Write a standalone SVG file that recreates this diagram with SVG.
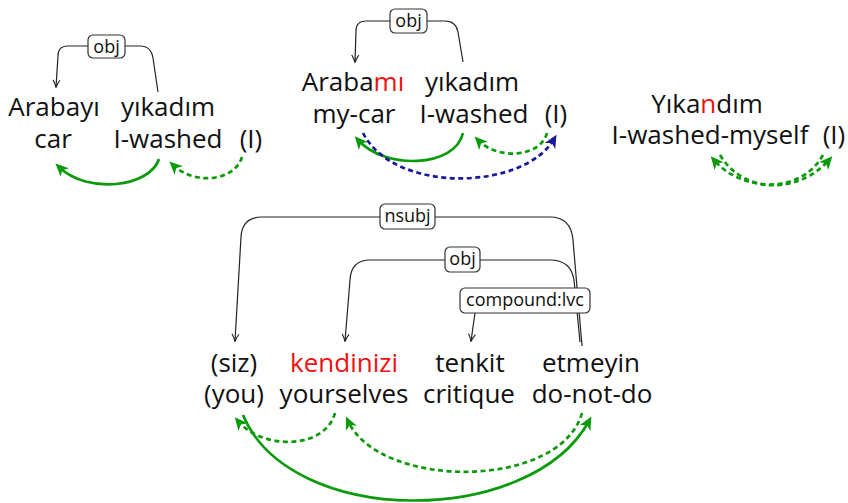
<svg xmlns="http://www.w3.org/2000/svg" width="848" height="503" viewBox="0 0 848 503">
<style>
.w{font-family:"Open Sans","Noto Sans",sans-serif;font-size:26px;fill:#111;text-anchor:middle}
.r{fill:#f01010}
.lb{fill:#fff;stroke:#333;stroke-width:1.2}
.lt{font-family:"Open Sans","Noto Sans",sans-serif;font-size:18px;fill:#111;text-anchor:middle}
.dep{fill:none;stroke:#222;stroke-width:1.2;marker-end:url(#bh)}
.gs{fill:none;stroke:#0a9a0a;stroke-width:2.7;marker-end:url(#gh)}
.gd{fill:none;stroke:#0a9a0a;stroke-width:2.7;stroke-dasharray:5 3.5;marker-end:url(#gh)}
.bd{fill:none;stroke:#18189a;stroke-width:2.7;stroke-dasharray:5 3.5;marker-end:url(#blh)}
</style>
<defs>
<marker id="bh" markerUnits="userSpaceOnUse" markerWidth="10" markerHeight="10" refX="9" refY="5" orient="auto" viewBox="0 0 10 10"><path d="M2,1.5 Q6,4 9.5,5 Q6,6 2,8.5" fill="none" stroke="#222" stroke-width="1.1"/></marker>
<marker id="gh" markerUnits="userSpaceOnUse" markerWidth="16" markerHeight="14" refX="10" refY="7" orient="auto" viewBox="0 0 16 14"><path d="M15,7 L2,1 L5.5,7 L2,13 Z" fill="#0a9a0a"/></marker>
<marker id="blh" markerUnits="userSpaceOnUse" markerWidth="16" markerHeight="14" refX="10" refY="7" orient="auto" viewBox="0 0 16 14"><path d="M15,7 L2,1 L5.5,7 L2,13 Z" fill="#18189a"/></marker>
</defs>

<g id="connectors">
<path class="dep" d="M158,92 L153,58 Q151,46 140,46 L68,46 Q58,46 58,56 L56,87"/>
<path class="dep" d="M463,62 L458,32 Q456,21 445,21 L366,21 Q356,21 356,31 L355,62"/>
<path class="dep" d="M582,346 L573,240 Q571,217 550,217 L262,217 Q242,217 241,237 L235,341"/>
<path class="dep" d="M580,342 L574,280 Q571,260 550,260 L370,260 Q351,260 350,280 L345,341"/>
<path class="dep" d="M475,313 L471,341"/>
<path class="gs" d="M159,159 C150,187 88,195 59,167"/>
<path class="gd" d="M242,157 C235,181 195,186 173,165"/>
<path class="gs" d="M463,133 C455,168 385,170 358,140"/>
<path class="gd" d="M547,133 C540,158 497,160 478,140"/>
<path class="bd" d="M363,133 C395,195 525,190 554,139"/>
<path class="gd" d="M720,155 C745,196 800,193 829,160"/>
<path class="gd" d="M823,155 C800,196 740,191 714,160"/>
<path class="gs" d="M243,415 C290,528 530,528 589,421"/>
<path class="gd" d="M335,413 C325,450 262,450 238,421"/>
<path class="gd" d="M582,413 C560,490 380,490 348,421"/>
</g>

<g id="label-obj-1"><rect class="lb" x="88" y="35" width="37" height="23" rx="5"/><text class="lt" x="106.5" y="52.5">obj</text></g>
<g id="label-obj-2"><rect class="lb" x="390" y="9" width="37" height="24" rx="5"/><text class="lt" x="408.5" y="27">obj</text></g>
<g id="label-nsubj"><rect class="lb" x="380" y="204" width="55" height="25" rx="5"/><text class="lt" x="407.5" y="222">nsubj</text></g>
<g id="label-obj-3"><rect class="lb" x="445" y="247" width="35" height="25" rx="5"/><text class="lt" x="462.5" y="265">obj</text></g>
<g id="label-compound"><rect class="lb" x="460" y="288" width="130" height="25" rx="5"/><text class="lt" x="525" y="306">compound:lvc</text></g>

<g id="n-arabayi"><text class="w"><tspan x="54" y="116">Arabayı</tspan><tspan x="53" y="148">car</tspan></text></g>
<g id="n-yikadim-1"><text class="w"><tspan x="168" y="116">yıkadım</tspan><tspan x="168" y="148">I-washed</tspan></text></g>
<g id="n-i-1"><text class="w" x="251" y="148">(I)</text></g>

<g id="n-arabami"><text class="w"><tspan x="353" y="91">Araba<tspan class="r">mı</tspan></tspan><tspan x="354" y="123">my-car</tspan></text></g>
<g id="n-yikadim-2"><text class="w"><tspan x="472" y="91">yıkadım</tspan><tspan x="474" y="123">I-washed</tspan></text></g>
<g id="n-i-2"><text class="w" x="556" y="123">(I)</text></g>

<g id="n-yikandim"><text class="w"><tspan x="707" y="113">Yıka<tspan class="r">n</tspan>dım</tspan><tspan x="710" y="144">I-washed-myself</tspan></text></g>
<g id="n-i-3"><text class="w" x="834" y="144">(I)</text></g>

<g id="n-siz"><text class="w"><tspan x="234" y="372">(siz)</tspan><tspan x="234" y="403">(you)</tspan></text></g>
<g id="n-kendinizi"><text class="w"><tspan class="r" x="344" y="372">kendinizi</tspan><tspan x="344" y="403">yourselves</tspan></text></g>
<g id="n-tenkit"><text class="w"><tspan x="470" y="372">tenkit</tspan><tspan x="469" y="403">critique</tspan></text></g>
<g id="n-etmeyin"><text class="w"><tspan x="591" y="372">etmeyin</tspan><tspan x="592" y="403">do-not-do</tspan></text></g>
</svg>
